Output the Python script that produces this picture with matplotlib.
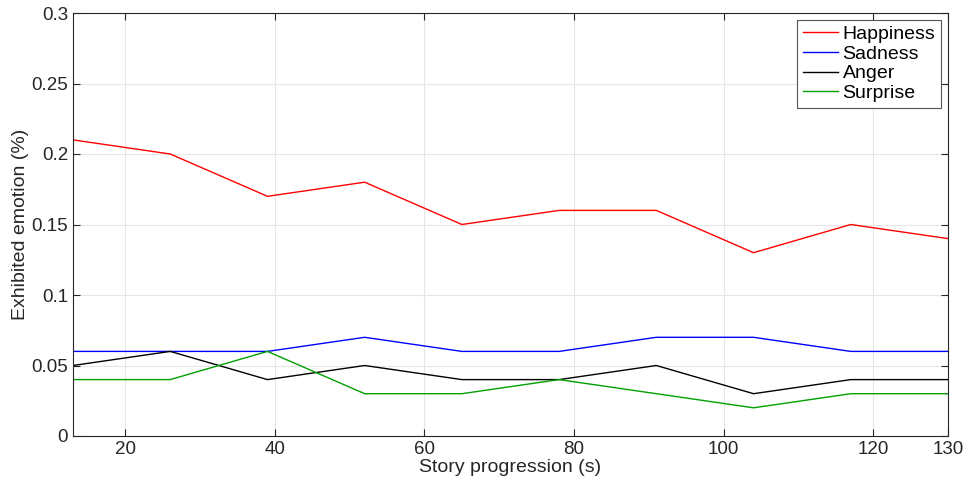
import matplotlib
matplotlib.use("Agg")
import matplotlib.pyplot as plt

plt.rcParams['font.family'] = ['Liberation Sans', 'DejaVu Sans']

time_s = [13, 26, 39, 52, 65, 78, 91, 104, 117, 130]
happiness = [0.21, 0.20, 0.17, 0.18, 0.15, 0.16, 0.16, 0.13, 0.15, 0.14]
sadness = [0.06, 0.06, 0.06, 0.07, 0.06, 0.06, 0.07, 0.07, 0.06, 0.06]
anger = [0.05, 0.06, 0.04, 0.05, 0.04, 0.04, 0.05, 0.03, 0.04, 0.04]
surprise = [0.04, 0.04, 0.06, 0.03, 0.03, 0.04, 0.03, 0.02, 0.03, 0.03]

fig = plt.figure(figsize=(9.72, 4.88), dpi=100)
ax = fig.add_axes([73/972, 1 - 436/488, (948-73)/972, (436-13)/488])

ax.plot(time_s, happiness, color='#ff0000', lw=1.0, label='Happiness')
ax.plot(time_s, sadness, color='#0000ff', lw=1.0, label='Sadness')
ax.plot(time_s, anger, color='#000000', lw=1.0, label='Anger')
ax.plot(time_s, surprise, color='#00a000', lw=1.0, label='Surprise')

ax.set_xlim(13, 130)
ax.set_ylim(0, 0.3)
ax.set_xticks([20, 40, 60, 80, 100, 120, 130])
ax.set_yticks([0, 0.05, 0.1, 0.15, 0.2, 0.25, 0.3])
ax.set_yticklabels(['0', '0.05', '0.1', '0.15', '0.2', '0.25', '0.3'])
ax.grid(True, color='#e6e6e6', lw=0.8)
ax.set_axisbelow(True)
ax.tick_params(direction='in', top=True, right=True, labelsize=13.5, colors='#262626', length=5)
for s in ax.spines.values():
    s.set_color('#262626')
    s.set_linewidth(0.8)

ax.set_xlabel('Story progression (s)', fontsize=14, color='#262626', labelpad=1)
ax.set_ylabel('Exhibited emotion (%)', fontsize=14, color='#262626', labelpad=2)

leg = ax.legend(loc='upper right', fontsize=14, handlelength=1.8, handletextpad=0.25,
                labelspacing=0.1, borderpad=0.3, fancybox=False, framealpha=1,
                edgecolor='#555555', borderaxespad=0.35)
leg.get_frame().set_linewidth(0.8)

fig.savefig('out.png', dpi=100)
